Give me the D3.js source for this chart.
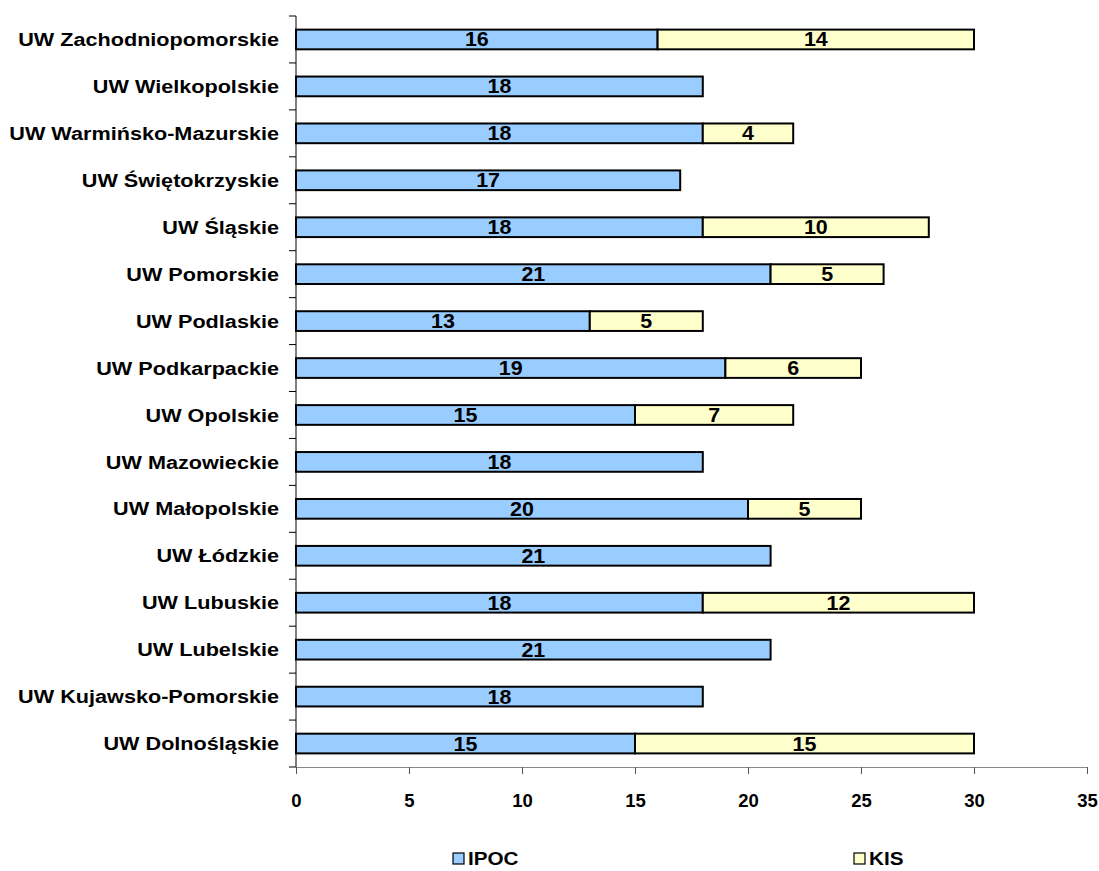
<!DOCTYPE html>
<html>
<head>
    <meta charset="utf-8">
    <title>UW - IPOC / KIS</title>
    <script src="https://d3js.org/d3.v7.min.js"></script>
    <style>
        body { margin: 0; background: #fff; }
        text { font-family: Arial, "Liberation Sans", sans-serif; font-weight: bold; fill: #000; }
    </style>
</head>
<body>
    <svg id="chart"></svg>
    <script>
        // data, top row first
        var categories = ["UW Zachodniopomorskie", "UW Wielkopolskie", "UW Warmińsko-Mazurskie",
            "UW Świętokrzyskie", "UW Śląskie", "UW Pomorskie", "UW Podlaskie", "UW Podkarpackie",
            "UW Opolskie", "UW Mazowieckie", "UW Małopolskie", "UW Łódzkie", "UW Lubuskie",
            "UW Lubelskie", "UW Kujawsko-Pomorskie", "UW Dolnośląskie"];
        var ipoc = [16, 18, 18, 17, 18, 21, 13, 19, 15, 18, 20, 21, 18, 21, 18, 15];
        var kis  = [14, 0, 4, 0, 10, 5, 5, 6, 7, 0, 5, 0, 12, 0, 0, 15];
        var seriesNames = ["IPOC", "KIS"];
        var seriesColors = ["#99CCFF", "#FFFFCC"];
        var xTicks = [0, 5, 10, 15, 20, 25, 30, 35];

        var width = 1099, height = 871;
        var margin = {top: 16, left: 296, right: 12, bottom: 104};

        var svg = d3.select("#chart").attr("width", width).attr("height", height);

        var x = d3.scaleLinear().domain([0, 35]).range([margin.left, width - margin.right]);
        var y = d3.scaleBand().domain(categories)
            .range([margin.top, height - margin.bottom])
            .paddingInner(0.58).paddingOuter(0.29);

        var rows = categories.map(function(c, i) {
            return {cat: c, vals: [ipoc[i], kis[i]]};
        });
        var stack = d3.stack().keys([0, 1]).value(function(d, k) { return d.vals[k]; });
        var layers = stack(rows);

        // stretched text like the original (wide bold Arial)
        function wideText(sel, sx) {
            sel.attr("transform", function() {
                var t = d3.select(this);
                return "translate(" + t.attr("x") + "," + t.attr("y") + ") scale(" + sx + ",1)";
            }).attr("x", 0).attr("y", 0);
        }

        // bars
        var g = svg.append("g");
        layers.forEach(function(layer, k) {
            var segs = layer.filter(function(d) { return d[1] - d[0] > 0; });
            g.selectAll(".bar" + k).data(segs).enter().append("rect")
                .attr("class", "bar" + k)
                .attr("x", function(d) { return x(d[0]); })
                .attr("width", function(d) { return x(d[1]) - x(d[0]); })
                .attr("y", function(d) { return y(d.data.cat); })
                .attr("height", y.bandwidth())
                .attr("fill", seriesColors[k])
                .attr("stroke", "#000")
                .attr("stroke-width", 2);
            g.selectAll(".lab" + k).data(segs).enter().append("text")
                .attr("x", function(d) { return (x(d[0]) + x(d[1])) / 2; })
                .attr("y", function(d) { return y(d.data.cat) + y.bandwidth() / 2 + 7; })
                .attr("text-anchor", "middle")
                .style("font-size", "19.5px")
                .text(function(d) { return d[1] - d[0]; })
                .call(wideText, 1.1);
        });

        // y axis: line + ticks on band boundaries
        var yTop = margin.top, yBot = height - margin.bottom;
        var yAx = svg.append("g");
        yAx.append("line").attr("x1", x(0)).attr("x2", x(0)).attr("y1", yTop).attr("y2", yBot)
            .attr("stroke", "#000").attr("stroke-width", 1);
        var step = y.step();
        yAx.selectAll(".yt").data(d3.range(categories.length + 1)).enter().append("line")
            .attr("x1", x(0) - 7).attr("x2", x(0))
            .attr("y1", function(i) { return yTop + i * step; })
            .attr("y2", function(i) { return yTop + i * step; })
            .attr("stroke", "#000");
        yAx.selectAll(".yl").data(categories).enter().append("text")
            .attr("x", x(0) - 17)
            .attr("y", function(d) { return y(d) + y.bandwidth() / 2 + 6.6; })
            .attr("text-anchor", "end")
            .style("font-size", "18.5px")
            .text(function(d) { return d; })
            .call(wideText, 1.17);

        // x axis
        var xAxis = d3.axisBottom(x).tickValues(xTicks).tickSize(7).tickPadding(19.5);
        var xg = svg.append("g").attr("transform", "translate(0," + yBot + ")").call(xAxis);
        xg.select(".domain").attr("stroke", "#888");
        xg.selectAll(".tick line").attr("stroke", "#555");
        xg.selectAll(".tick text").style("font-size", "18.5px").style("font-family", "Arial, 'Liberation Sans', sans-serif")
            .style("font-weight", "bold").attr("fill", "#000");

        // legend
        var legendX = [453, 854];
        var lg = svg.selectAll(".lg").data(seriesNames).enter().append("g")
            .attr("transform", function(d, i) { return "translate(" + legendX[i] + ",853)"; });
        lg.append("rect").attr("width", 11).attr("height", 11)
            .attr("fill", function(d, i) { return seriesColors[i]; })
            .attr("stroke", "#000").attr("stroke-width", 1.2);
        lg.append("text").attr("x", 15).attr("y", 12)
            .style("font-size", "18px").text(function(d) { return d; })
            .call(wideText, 1.15);
    </script>
</body>
</html>
